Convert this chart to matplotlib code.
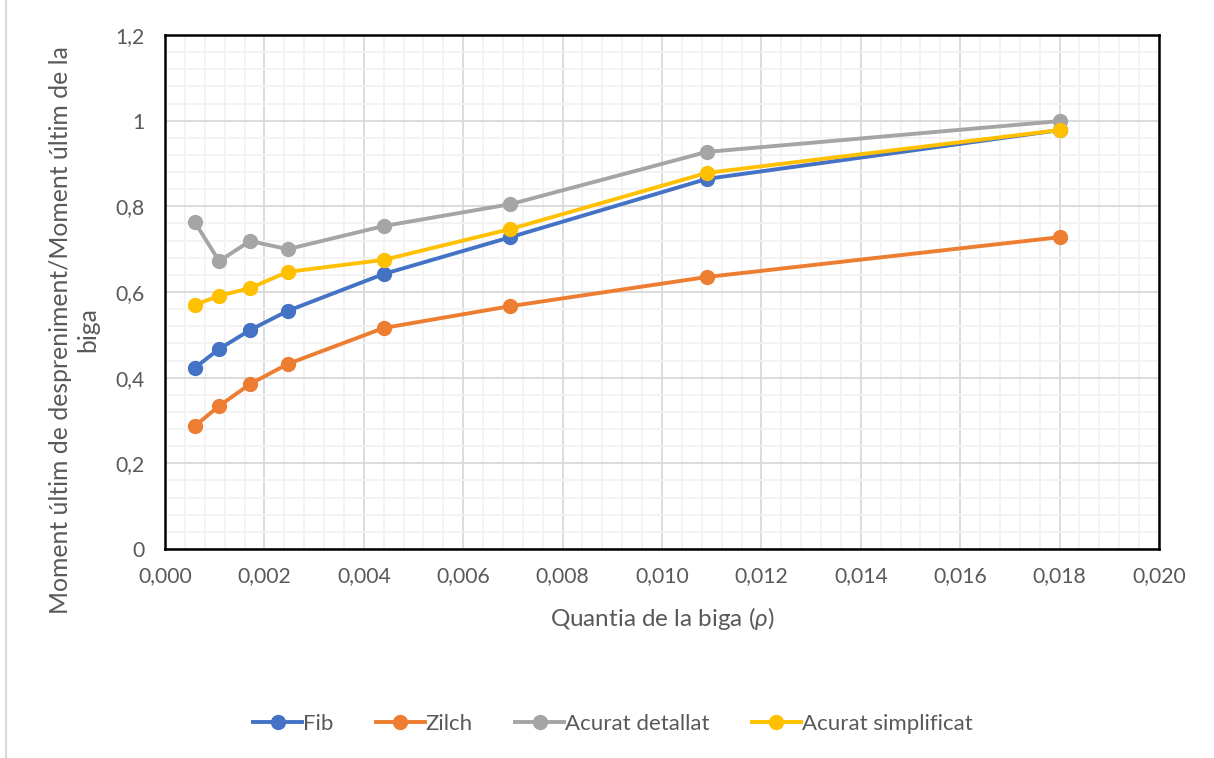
import matplotlib
matplotlib.use("Agg")
import matplotlib.pyplot as plt
from matplotlib.ticker import MultipleLocator, FuncFormatter
from matplotlib.lines import Line2D

plt.rcParams['font.family'] = ['Lato', 'DejaVu Sans']
plt.rcParams['mathtext.fontset'] = 'custom'
plt.rcParams['mathtext.it'] = 'Lato:italic'

# Reinforcement ratio of the beam
rho = [0.0006, 0.00109, 0.00171, 0.00247, 0.0044, 0.00695, 0.0109, 0.0180]

fib = [0.423, 0.467, 0.511, 0.556, 0.642, 0.728, 0.864, 0.978]
zilch = [0.287, 0.334, 0.385, 0.432, 0.516, 0.567, 0.635, 0.728]
acurat_detallat = [0.763, 0.672, 0.719, 0.700, 0.754, 0.805, 0.927, 0.999]
acurat_simplificat = [0.570, 0.591, 0.609, 0.647, 0.675, 0.747, 0.878, 0.978]

series = [
    ("Fib", fib, "#4472C4"),
    ("Zilch", zilch, "#ED7D31"),
    ("Acurat detallat", acurat_detallat, "#A5A5A5"),
    ("Acurat simplificat", acurat_simplificat, "#FFC000"),
]

text_color = "#595959"
W, H = 1214, 758

fig = plt.figure(figsize=(W / 100, H / 100), dpi=100)
ax = fig.add_axes([165 / W, 1 - 549 / H, (1159 - 165) / W, (549 - 35) / H])

for name, vals, col in series:
    ax.plot(rho, vals, color=col, lw=2.8, marker="o", ms=10, label=name,
            solid_capstyle="round", zorder=3)

ax.set_xlim(0, 0.020)
ax.set_ylim(0, 1.2)
ax.xaxis.set_major_locator(MultipleLocator(0.002))
ax.xaxis.set_minor_locator(MultipleLocator(0.0004))
ax.yaxis.set_major_locator(MultipleLocator(0.2))
ax.yaxis.set_minor_locator(MultipleLocator(0.04))

ax.xaxis.set_major_formatter(FuncFormatter(lambda v, p: f"{v:.3f}".replace(".", ",")))

def yfmt(v, p):
    s = f"{v:.1f}"
    if s.endswith(".0"):
        s = s[:-2]
    return s.replace(".", ",")

ax.yaxis.set_major_formatter(FuncFormatter(yfmt))

ax.grid(which="major", color="#D9D9D9", lw=1.3, zorder=0)
ax.grid(which="minor", color="#F2F2F2", lw=1.3, zorder=0)
ax.set_axisbelow(True)

for sp in ax.spines.values():
    sp.set_color("black")
    sp.set_linewidth(1.8)

ax.tick_params(which="both", length=0, labelsize=15.2, colors=text_color)
ax.tick_params(axis="y", pad=15)
ax.tick_params(axis="x", pad=12)

ax.set_xlabel(r"Quantia de la biga ($\rho$)", fontsize=17.5, color=text_color, labelpad=14)

# Two-line rotated y-axis title
fig.text(74 / W, 1 - 330 / H, "Moment últim de despreniment/Moment últim de la\nbiga",
         rotation=90, ha="center", va="center", multialignment="center",
         fontsize=17.8, color=text_color, linespacing=1.25)

handles = [Line2D([0], [0], color=c, lw=2.8, marker="o", ms=10) for _, _, c in series]
labels = [n for n, _, _ in series]
fig.legend(handles, labels, loc="center", bbox_to_anchor=(613 / W, 1 - 724 / H),
           ncol=4, frameon=False, fontsize=16, labelcolor=text_color,
           handlelength=2.2, handletextpad=0.05, columnspacing=1.9)

# thin frame line on the left edge
fig.add_artist(Line2D([6 / W, 6 / W], [0, 1], color="#D9D9D9", lw=1.5,
                      transform=fig.transFigure))

fig.savefig("out.png", dpi=100)
